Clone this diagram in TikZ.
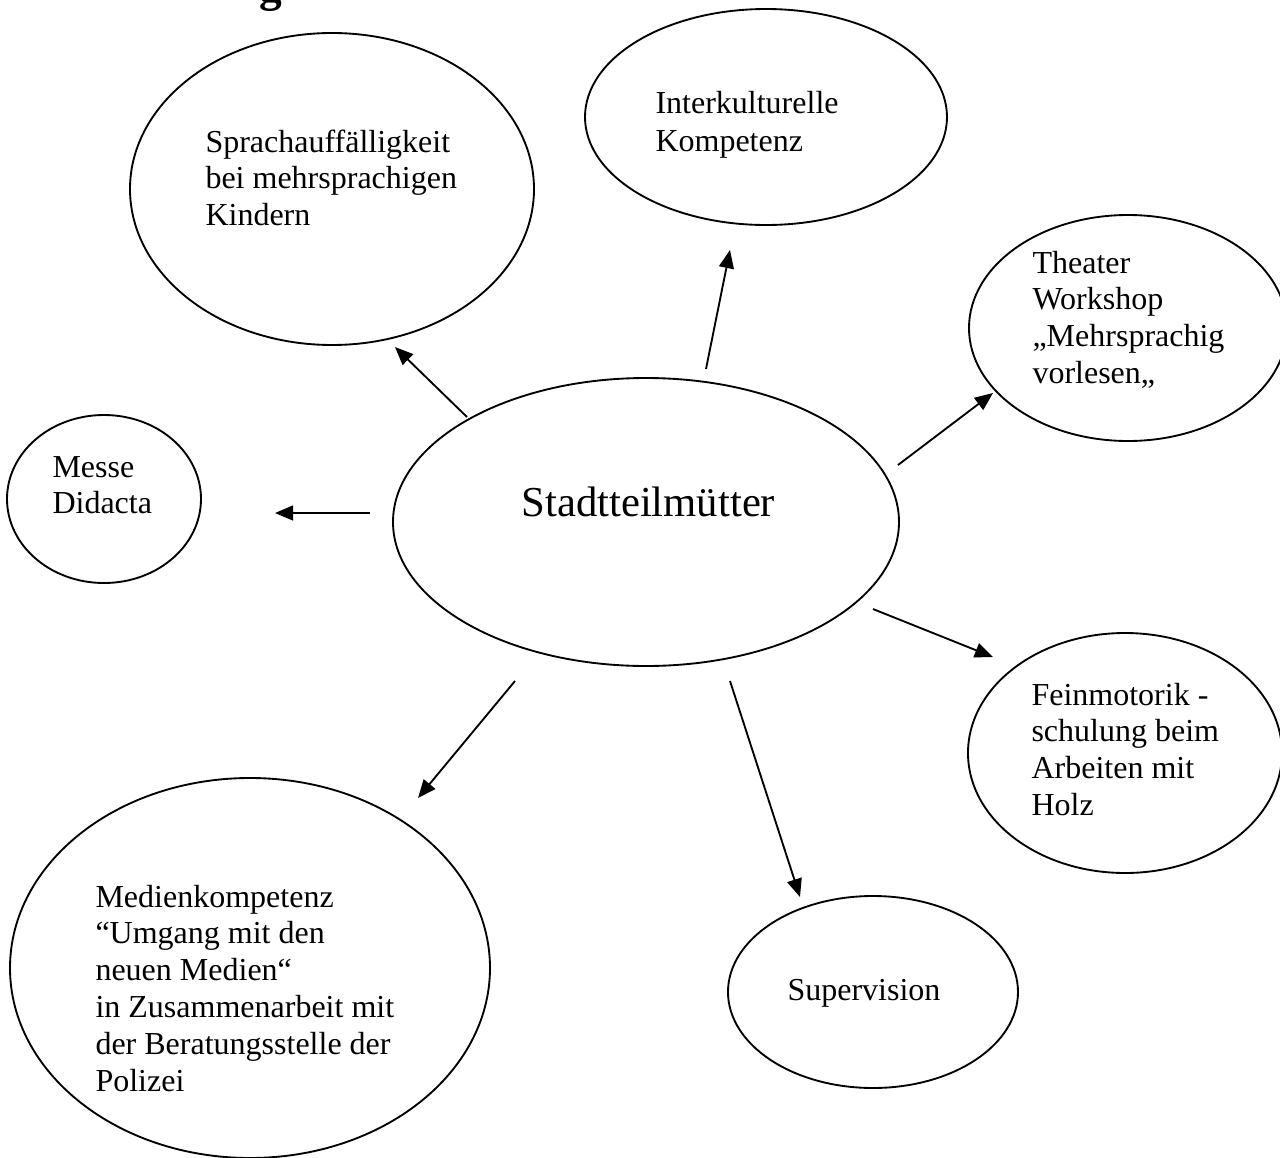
\documentclass[tikz,border=0pt]{standalone}
\usepackage{fontspec}
\setmainfont{Liberation Serif}
\usetikzlibrary{shapes.geometric,arrows.meta}

\newcommand{\zeilen}[1]{\begin{tabular}[t]{@{}l@{}}#1\end{tabular}}

\tikzset{
  blase/.style 2 args={draw, ellipse, line width=0.7pt, inner sep=0pt,
    minimum width=#1*0.75pt, minimum height=#2*0.75pt},
  txt/.style={inner sep=0pt, anchor=base west, font=\fontsize{12}{13.8}\selectfont},
  pfeil/.style={line width=0.7pt, -{Triangle[length=6.8pt,width=5.6pt]}}
}

\begin{document}
\begin{tikzpicture}[x=0.375pt,y=-0.375pt]
  \useasboundingbox (0,0) rectangle (1280,1158);
  % Ueberschrift, oben abgeschnitten
  \node[txt, font=\fontsize{17}{19}\selectfont\bfseries] (kopf) at (259,1) {g};

  \node[blase={253}{144}] (mitte) at (646,522) {};
  \node[txt, font=\fontsize{16}{18}\selectfont] (mitte-t) at (521,516) {Stadtteilmütter};

  \node[blase={202}{156}] (sprach) at (332,189) {};
  \node[txt] (sprach-t) at (205,152) {\zeilen{Sprachauffälligkeit\\bei mehrsprachigen\\Kindern}};

  \node[blase={181}{108}] (inter) at (766,117) {};
  \node[txt, font=\fontsize{12}{14.5}\selectfont] (inter-t) at (655,113) {\zeilen{Interkulturelle\\Kompetenz}};

  \node[blase={159}{113}] (theater) at (1128,328) {};
  \node[txt] (theater-t) at (1032,273) {\zeilen{Theater\\Workshop\\„Mehrsprachig\\vorlesen„}};

  \node[blase={97}{84}] (messe) at (104,499) {};
  \node[txt] (messe-t) at (52,477) {\zeilen{Messe\\Didacta}};

  \node[blase={157}{120}] (fein) at (1125,753) {};
  \node[txt] (fein-t) at (1031,705) {\zeilen{Feinmotorik -\\schulung beim\\Arbeiten mit\\Holz}};

  \node[blase={145}{96}] (super) at (873,992) {};
  \node[txt] (super-t) at (787,1000) {Supervision};

  \node[blase={240}{190}] (medien) at (250,968) {};
  \node[txt] (medien-t) at (95,907) {\zeilen{Medienkompetenz\\“Umgang mit den\\neuen Medien“\\in Zusammenarbeit mit\\der Beratungsstelle der\\Polizei}};

  % Pfeile: Anfang s, Spitze z
  \coordinate (s1) at (467,417); \coordinate (z1) at (395,347);
  \coordinate (s2) at (706,369); \coordinate (z2) at (730,250);
  \coordinate (s3) at (898,465); \coordinate (z3) at (993,393);
  \coordinate (s4) at (370,513); \coordinate (z4) at (275,513);
  \coordinate (s5) at (873,609); \coordinate (z5) at (993,657);
  \coordinate (s6) at (730,681); \coordinate (z6) at (800,897);
  \coordinate (s7) at (515,681); \coordinate (z7) at (418,798);
  \foreach \i in {1,...,7}
    \draw[pfeil] (s\i) -- (z\i);
\end{tikzpicture}
\end{document}
